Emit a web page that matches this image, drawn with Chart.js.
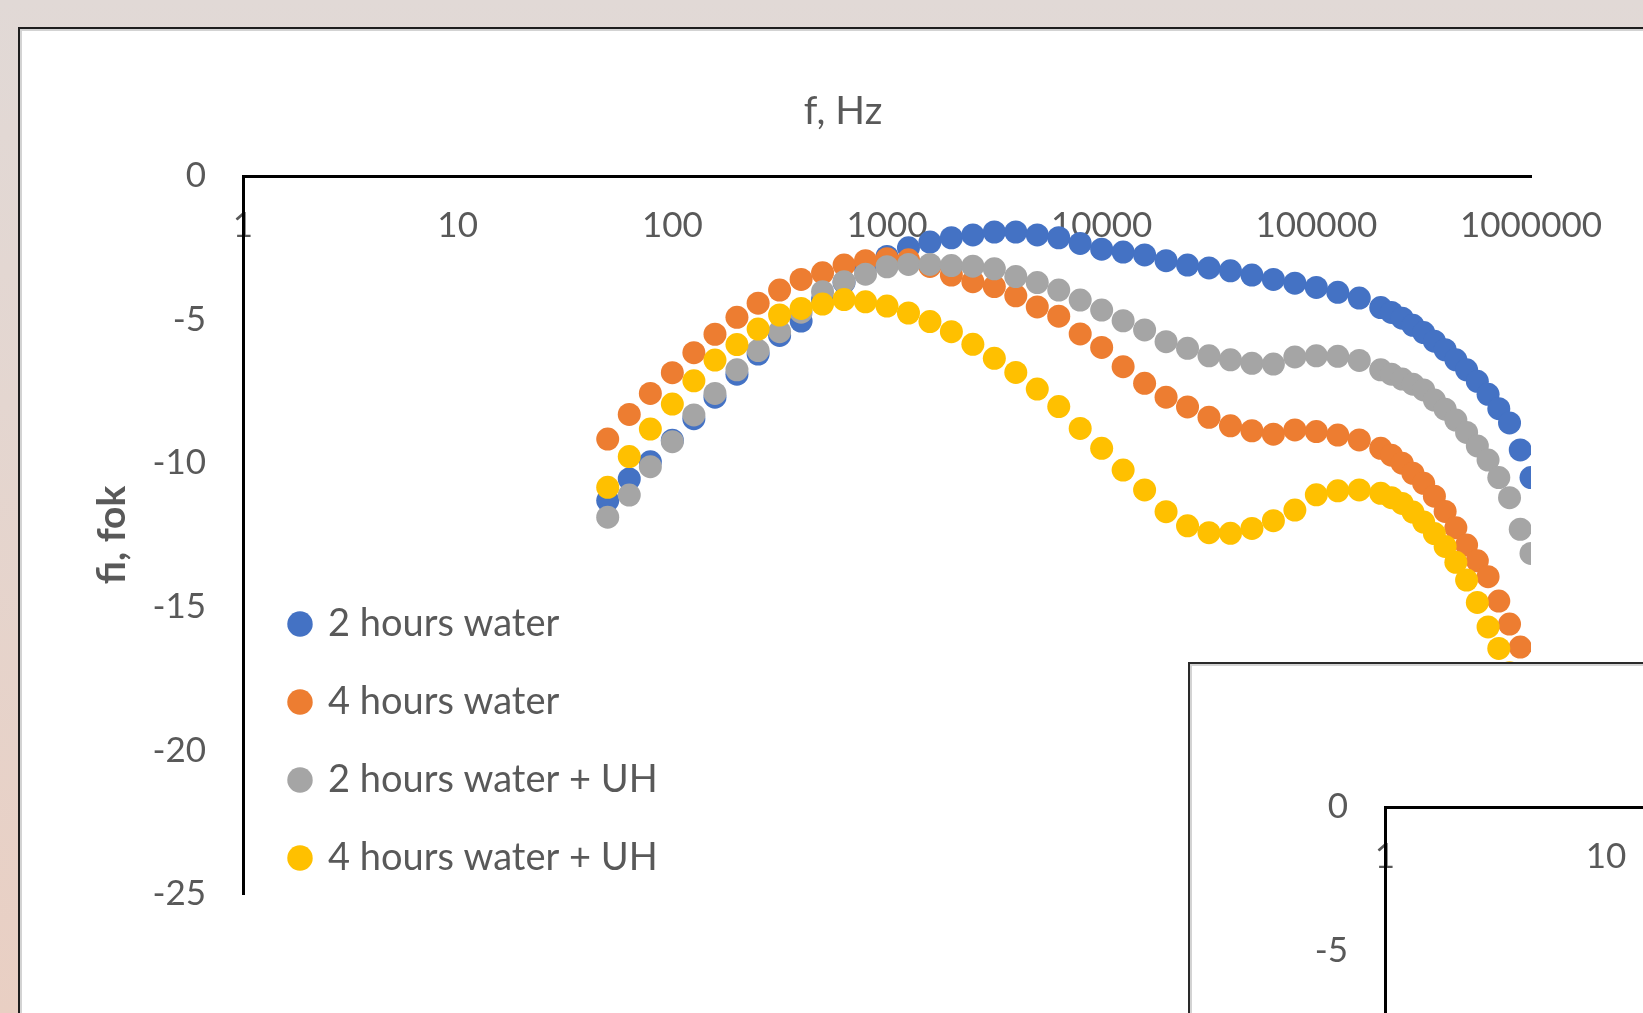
<!DOCTYPE html>
<html><head><meta charset="utf-8">
<script src="https://cdn.jsdelivr.net/npm/chart.js@4.4.1/dist/chart.umd.min.js"></script>
<style>
html,body{margin:0;padding:0;}
body{width:1643px;height:1013px;overflow:hidden;position:relative;background:linear-gradient(#e1d9d6 0%,#e4d6d0 40%,#e9cfc3 100%);}
#frame{position:absolute;left:18px;top:27px;width:1700px;height:1100px;background:#fff;border:2px solid #1e1e1e;box-shadow:inset 2px 2px 0 #d3d3d3;}
#main{position:absolute;left:19px;top:28px;}
#insetFrame{position:absolute;left:1188px;top:662px;width:700px;height:600px;background:#fff;border:2px solid #2a2a2a;box-shadow:inset 2px 2px 0 #d3d3d3;}
#inset{position:absolute;left:1189px;top:663px;}
</style></head>
<body>
<div id="frame"></div>
<canvas id="main" width="1648" height="985"></canvas>
<div id="insetFrame"></div>
<canvas id="inset" width="1700" height="1000"></canvas>
<script>
// ---- data ----
const freqHz = [50, 63, 79, 100, 126, 158, 200, 251, 316, 398, 501, 631, 794, 1000, 1259, 1585, 1995, 2512, 3162, 3981, 5012, 6310, 7943, 10000, 12589, 15849, 19953, 25119, 31623, 39811, 50119, 63096, 79433, 100000, 125893, 158489, 199526, 223872, 251189, 281838, 316228, 354813, 398107, 446684, 501187, 562341, 630957, 707946, 794328, 891251, 1000000];

const water2h = [-11.3, -10.55, -9.95, -9.2, -8.45, -7.7, -6.9, -6.2, -5.55, -5.05, -4.3, -3.7, -3.2, -2.8, -2.5, -2.3, -2.15, -2.05, -1.95, -1.95, -2.05, -2.15, -2.35, -2.55, -2.65, -2.75, -2.95, -3.1, -3.2, -3.3, -3.45, -3.6, -3.73, -3.88, -4.05, -4.25, -4.58,
  -4.75, -4.95, -5.2, -5.45, -5.75, -6.05, -6.4, -6.75, -7.15, -7.6, -8.1, -8.6, -9.54, -10.5];

const water4h = [-9.16, -8.3, -7.57, -6.85, -6.15, -5.51, -4.92, -4.43, -3.97, -3.6, -3.37, -3.1, -2.95, -2.88, -2.92, -3.15, -3.45, -3.68, -3.85, -4.17, -4.56, -4.88, -5.5, -5.97, -6.64, -7.22, -7.7, -8.04, -8.4, -8.7, -8.87, -8.99, -8.84, -8.9, -9.02, -9.19, -9.48,
  -9.72, -10.0, -10.35, -10.7, -11.15, -11.68, -12.25, -12.85, -13.4, -13.95, -14.8, -15.6, -16.4, -17.6];

const water2hUH = [-11.88, -11.11, -10.12, -9.25, -8.32, -7.57, -6.75, -6.08, -5.42, -4.74, -4.03, -3.68, -3.42, -3.16, -3.08, -3.08, -3.12, -3.14, -3.23, -3.5, -3.71, -3.97, -4.32, -4.67, -5.04, -5.36, -5.77, -6.0, -6.26, -6.4, -6.52, -6.55, -6.3, -6.26, -6.28, -6.42, -6.75,
  -6.9, -7.07, -7.25, -7.45, -7.8, -8.12, -8.5, -8.93, -9.4, -9.89, -10.5, -11.2, -12.3, -13.14];

const water4hUH = [-10.84, -9.77, -8.81, -7.94, -7.13, -6.41, -5.87, -5.33, -4.84, -4.61, -4.46, -4.3, -4.38, -4.53, -4.77, -5.07, -5.42, -5.86, -6.35, -6.84, -7.42, -8.03, -8.79, -9.48, -10.24, -10.93, -11.69, -12.18, -12.42, -12.44, -12.27, -12.0, -11.63, -11.1, -10.96, -10.93, -11.05,
  -11.2, -11.4, -11.7, -12.05, -12.45, -12.9, -13.45, -14.07, -14.85, -15.7, -16.45, -17.3, -18.1, -18.9];

const seriesNames = ['2 hours water', '4 hours water', '2 hours water + UH', '4 hours water + UH'];
const seriesColors = ['#4472C4', '#ED7D31', '#A5A5A5', '#FFC000'];
const xTickValues = [1, 10, 100, 1000, 10000, 100000, 1000000];
const yTickValues = [0, -5, -10, -15, -20, -25];
const xTitle = 'f, Hz';
const yTitle = 'fi, fok';

// ---- chart ----
Chart.defaults.font.family = "Lato, 'Open Sans', 'DejaVu Sans', sans-serif";
Chart.defaults.color = '#595959';
const textColor = '#595959';
const seriesValues = [water2h, water4h, water2hUH, water4hUH];

function makeScales(yAxisWidth, rightSpace, withYTitle) {
  return {
    x: {
      type: 'logarithmic', position: 'top', min: xTickValues[0], max: xTickValues[xTickValues.length - 1], z: 1,
      afterBuildTicks: s => { s.ticks = xTickValues.map(v => ({ value: v })); },
      afterFit: s => { s.height = 0; },
      ticks: { mirror: true, padding: 29, autoSkip: false, maxRotation: 0, minRotation: 0, color: textColor, font: { size: 35 }, callback: v => String(v) },
      grid: { display: false, drawTicks: false },
      border: { display: true, color: '#000', width: 3 }
    },
    y: {
      type: 'linear', position: 'left', min: Math.min(...yTickValues), max: Math.max(...yTickValues),
      afterFit: s => { s.width = yAxisWidth; },
      ticks: { stepSize: 5, padding: 37, color: textColor, font: { size: 35 } },
      grid: { display: false, drawTicks: false },
      border: { display: true, color: '#000', width: 3 },
      title: { display: withYTitle, text: yTitle, color: textColor, font: { size: 39, weight: 'bold' }, padding: { top: 3.6, bottom: 0 } }
    },
    // empty spacer on the right (keeps the plot where the reference has it)
    yRight: {
      type: 'linear', position: 'right', display: true, min: 0, max: 1,
      afterFit: s => { s.width = rightSpace; },
      ticks: { display: false },
      grid: { display: false, drawTicks: false },
      border: { display: false }
    }
  };
}

const legendNudge = {
  id: 'legendNudge',
  afterLayout(chart) {
    const l = chart.legend; if (!l) return;
    const a = chart.chartArea;
    l.left = a.left + 8; l.right = a.right + 8;
    l.top = a.top + 23; l.bottom = a.bottom + 23;
  }
};

new Chart(document.getElementById('main'), {
  type: 'scatter',
  data: {
    datasets: seriesNames.map((name, i) => ({
      label: name,
      data: freqHz.map((f, j) => ({ x: f, y: seriesValues[i][j] })),
      backgroundColor: seriesColors[i],
      borderColor: seriesColors[i],
      borderWidth: 0,
      pointRadius: 11.5,
      pointHoverRadius: 11.5,
      pointBorderWidth: 0,
      pointStyle: 'circle',
      showLine: false,
      order: seriesNames.length - i
    }))
  },
  options: {
    responsive: false, animation: false, events: [],
    layout: { padding: { left: 66, right: 66, top: 0, bottom: 119 } },
    scales: makeScales(158, 70, true),
    plugins: {
      title: { display: true, text: xTitle, color: textColor, font: { size: 39, weight: 'normal' }, padding: { top: 60, bottom: 41.2 } },
      legend: {
        position: 'chartArea', align: 'end',
        labels: { usePointStyle: true, pointStyle: 'circle', boxWidth: 18, boxHeight: 18, padding: 40, color: textColor, font: { size: 38 },
          sort: (a, b) => a.datasetIndex - b.datasetIndex }
      },
      tooltip: { enabled: false }
    }
  },
  plugins: [legendNudge]
});

// second (partially visible) chart in the lower right corner
new Chart(document.getElementById('inset'), {
  type: 'scatter',
  data: { datasets: [] },
  options: {
    responsive: false, animation: false, events: [],
    layout: { padding: { left: 100, right: 108, top: 144, bottom: 136 } },
    scales: makeScales(96, 70, false),
    plugins: { legend: { display: false }, title: { display: false }, tooltip: { enabled: false } }
  }
});
</script>
</body></html>
